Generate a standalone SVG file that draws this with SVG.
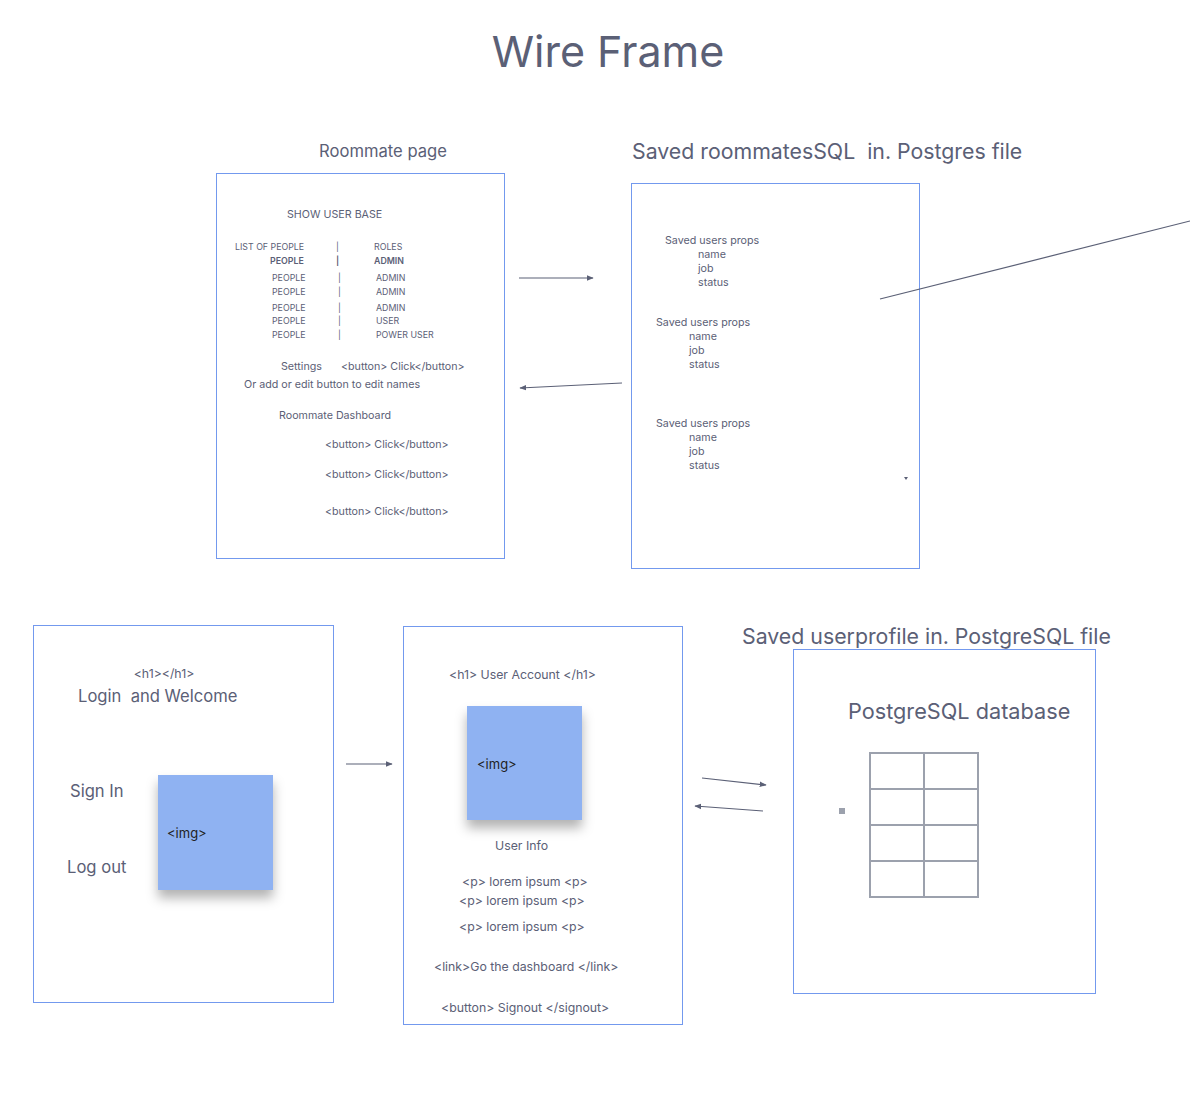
<svg xmlns="http://www.w3.org/2000/svg" width="1190" height="1104" viewBox="0 0 1190 1104">
<defs>
<style>
text{font-family:Inter,"Noto Sans","Liberation Sans",sans-serif;fill:#5b6076}
.box{fill:#fff;stroke:#7399ee;stroke-width:1}
.conn line{stroke:#5b6076;stroke-width:1.2}
.s9{font-size:8.8px}
.s11{font-size:10.7px}
.s12{font-size:12.3px}
.s17{font-size:16.6px}
.s21{font-size:21.3px}
.b{font-weight:600}
.img{fill:#8fb2f2}
.imgt{fill:#222;font-size:13px}
.tbl{fill:none;stroke:#9ca1ad;stroke-width:2}
</style>
<marker id="ah" viewBox="0 0 10 10" refX="9" refY="5" markerWidth="7" markerHeight="7" orient="auto" markerUnits="userSpaceOnUse">
<path d="M0,1 L10,5 L0,9 z" fill="#5b6076"/>
</marker>
<filter id="sh" x="-30%" y="-30%" width="160%" height="170%">
<feDropShadow dx="0" dy="8" stdDeviation="6" flood-color="#000" flood-opacity="0.3"/>
</filter>
</defs>
<rect width="1190" height="1104" fill="#fff"/>
<text x="608" y="67" text-anchor="middle" style="font-size:43px">Wire Frame</text>

<g id="roommate-page">
<text x="383" y="157" text-anchor="middle" class="s17">Roommate page</text>
<rect class="box" x="216.5" y="173.5" width="288" height="385"/>
<text x="287" y="218" class="s11">SHOW USER BASE</text>
<text x="235" y="250" class="s9">LIST OF PEOPLE</text><text x="336" y="250" class="s9">|</text><text x="374" y="250" class="s9">ROLES</text>
<text x="270" y="264" class="s9 b">PEOPLE</text><text x="336" y="264" class="s9 b">|</text><text x="374" y="264" class="s9 b">ADMIN</text>
<text x="272" y="281" class="s9">PEOPLE</text><text x="338" y="281" class="s9">|</text><text x="376" y="281" class="s9">ADMIN</text>
<text x="272" y="295" class="s9">PEOPLE</text><text x="338" y="295" class="s9">|</text><text x="376" y="295" class="s9">ADMIN</text>
<text x="272" y="311" class="s9">PEOPLE</text><text x="338" y="311" class="s9">|</text><text x="376" y="311" class="s9">ADMIN</text>
<text x="272" y="324" class="s9">PEOPLE</text><text x="338" y="324" class="s9">|</text><text x="376" y="324" class="s9">USER</text>
<text x="272" y="338" class="s9">PEOPLE</text><text x="338" y="338" class="s9">|</text><text x="376" y="338" class="s9">POWER USER</text>
<text x="281" y="370" class="s11">Settings</text><text x="341" y="370" class="s11">&lt;button&gt; Click&lt;/button&gt;</text>
<text x="244" y="388" class="s11">Or add or edit button to edit names</text>
<text x="279" y="419" class="s11">Roommate Dashboard</text>
<text x="325" y="448" class="s11">&lt;button&gt; Click&lt;/button&gt;</text>
<text x="325" y="478" class="s11">&lt;button&gt; Click&lt;/button&gt;</text>
<text x="325" y="515" class="s11">&lt;button&gt; Click&lt;/button&gt;</text>
</g>

<g id="saved-roommates">
<text x="632" y="159" class="s21">Saved roommatesSQL &#160;in. Postgres file</text>
<rect class="box" x="631.5" y="183.5" width="288" height="385"/>
<text x="665" y="244" class="s11">Saved users props</text>
<text x="698" y="258" class="s11">name</text><text x="698" y="272" class="s11">job</text><text x="698" y="286" class="s11">status</text>
<text x="656" y="326" class="s11">Saved users props</text>
<text x="689" y="340" class="s11">name</text><text x="689" y="354" class="s11">job</text><text x="689" y="368" class="s11">status</text>
<text x="656" y="427" class="s11">Saved users props</text>
<text x="689" y="441" class="s11">name</text><text x="689" y="455" class="s11">job</text><text x="689" y="469" class="s11">status</text>
<path d="M904,477 L908,477 L906,480 z" fill="#5b6076"/>
</g>

<g id="login">
<rect class="box" x="33.5" y="625.5" width="300" height="377"/>
<text x="164" y="678" text-anchor="middle" class="s12">&lt;h1&gt;&lt;/h1&gt;</text>
<text x="78" y="702" class="s17">Login &#160;and Welcome</text>
<text x="70" y="797" class="s17">Sign In</text>
<text x="67" y="873" class="s17">Log out</text>
<rect class="img" x="158" y="775" width="115" height="115" filter="url(#sh)"/>
<text x="167" y="838" class="imgt">&lt;img&gt;</text>
</g>

<g id="user-account">
<rect class="box" x="403.5" y="626.5" width="279" height="398"/>
<text x="449" y="679" class="s12">&lt;h1&gt; User Account &lt;/h1&gt;</text>
<rect class="img" x="467" y="706" width="115" height="114" filter="url(#sh)"/>
<text x="477" y="769" class="imgt">&lt;img&gt;</text>
<text x="495" y="850" class="s12">User Info</text>
<text x="462" y="886" class="s12">&lt;p&gt; lorem ipsum &lt;p&gt;</text>
<text x="459" y="905" class="s12">&lt;p&gt; lorem ipsum &lt;p&gt;</text>
<text x="459" y="931" class="s12">&lt;p&gt; lorem ipsum &lt;p&gt;</text>
<text x="434" y="971" class="s12">&lt;link&gt;Go the dashboard &lt;/link&gt;</text>
<text x="441" y="1012" class="s12">&lt;button&gt; Signout &lt;/signout&gt;</text>
</g>

<g id="postgres-db">
<text x="742" y="644" class="s21">Saved userprofile in. PostgreSQL file</text>
<rect class="box" x="793.5" y="649.5" width="302" height="344"/>
<text x="848" y="719" style="font-size:21.7px">PostgreSQL database</text>
<rect x="839" y="808" width="6" height="6" fill="#9ca1ad"/>
<g class="tbl">
<rect x="870" y="753" width="108" height="144"/>
<line x1="924" y1="753" x2="924" y2="897"/>
<line x1="870" y1="789" x2="978" y2="789"/>
<line x1="870" y1="825" x2="978" y2="825"/>
<line x1="870" y1="861" x2="978" y2="861"/>
</g>
</g>

<g id="connectors" class="conn">
<line x1="519" y1="278" x2="593" y2="278" marker-end="url(#ah)"/>
<line x1="622" y1="383" x2="520" y2="388" marker-end="url(#ah)"/>
<line x1="880" y1="299" x2="1190" y2="221"/>
<line x1="346" y1="764" x2="392" y2="764" marker-end="url(#ah)"/>
<line x1="702" y1="778" x2="766" y2="785" marker-end="url(#ah)"/>
<line x1="763" y1="811" x2="695" y2="806" marker-end="url(#ah)"/>
</g>
</svg>
